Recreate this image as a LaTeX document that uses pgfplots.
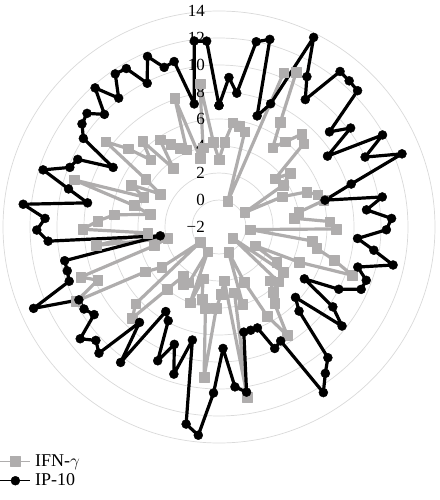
\documentclass[border=0pt]{standalone}
\usepackage{fontspec}
\setmainfont{Liberation Serif}
\usepackage{pgfplots}
\usepgfplotslibrary{polar}
\pgfplotsset{compat=1.18}
\usepackage{pgfplotstable}

\definecolor{ifngray}{RGB}{175,173,173}
\definecolor{gridgray}{RGB}{217,217,217}

% i = category index (95 categories, clockwise from the top), values as read
\pgfplotstableread{
i  ifn  ip
0  3.0  7.0
1  4.3  9.1
2  5.8  8.0
3  5.6  12.0
4  5.3  12.4
5  0.0  6.7
6  10.4 7.9
7  10.8 13.7
8  7.0  10.9
9  5.1  9.4
10 6.0  12.6
11 7.2  12.5
12 6.8  12.4
13 3.5  8.8
14 4.6  10.2
15 3.7  7.6
16 0.2  11.9
17 3.2  10.0
18 5.0  12.6
19 5.7  8.3
20 6.0  6.1
21 4.0  10.3
22 3.6  9.0
23 6.2  10.8
24 6.7  10.4
25 0.3  8.3
26 5.0  9.6
27 5.4  11.2
28 6.9  8.7
29 8.5  9.6
30 4.5  9.5
31 1.0  8.0
32 3.0  5.4
33 3.8  8.3
34 -0.7 9.7
35 4.0  5.7
36 3.5  6.6
37 4.3  10.6
38 5.0  11.4
39 7.5  12.5
40 5.5  7.6
41 2.5  7.9
42 0.0  6.0
43 4.0  6.0
44 3.0  6.0
45 10.8 10.4
46 2.0  9.9
47 3.0  7.0
48 4.0  10.3
49 9.2  13.5
50 4.1  12.8
51 3.5  6.6
52 2.0  9.4
53 4.0  7.3
54 0.0  8.9
55 2.7  5.9
56 3.0  5.4
57 2.5  10.4
58 4.0  7.2
59 7.3  10.9
60 6.4  10.4
61 -0.2 11.2
62 3.2  9.3
63 4.4  9.7
64 9.9  9.7
65 7.8  13.0
66 8.9  9.8
67 3.0  9.7
68 1.9  9.7
69 7.2  2.4
70 3.3  10.7
71 8.1  11.5
72 7.0  10.9
73 5.8  12.6
74 3.2  7.9
75 4.5  9.5
76 9.3  11.7
77 4.0  9.9
78 5.2  9.6
79 3.0  7.0
80 4.5  10.0
81 8.5  10.7
82 6.9  10.9
83 5.1  9.9
84 6.5  11.8
85 3.5  10.1
86 5.8  11.7
87 5.1  11.6
88 4.5  9.9
89 4.2  11.7
90 8.1  10.5
91 3.3  10.7
92 4.0  7.3
93 8.7  11.9
94 4.3  11.8
95 3.0  7.0
}\radardata

\begin{document}
\begin{tikzpicture}
\useasboundingbox (-219pt,-273pt) rectangle (220pt,227pt);
\begin{polaraxis}[
    at={(0pt,0pt)}, anchor=origin,
    width=432pt, height=432pt, scale only axis,
    ymin=0, ymax=16,
    xtick=\empty,
    ytick={2,4,...,16},
    yticklabels={},
    ymajorgrids,
    major grid style={gridgray, line width=0.7pt},
    axis line style={draw=none},
    tick style={draw=none},
    major tick length=0pt,
    clip=false,
    legend style={at={(-0.008,-0.022)}, anchor=north west, draw=none, fill=none,
        font=\fontsize{18}{21}\selectfont, row sep=2pt, inner sep=0pt,
        nodes={inner xsep=4pt}},
    legend cell align=left,
    legend image code/.code={\draw[mark repeat=2,mark phase=2,#1,line width=1.3pt]
        plot coordinates {(0pt,0pt) (15pt,0pt) (30pt,0pt)};},
]
\addplot[ifngray, line width=3.2pt, line join=round, mark=square*, mark size=4.8pt,
    mark options={line width=0.4pt, fill=ifngray}]
    table[x expr=90-360*\thisrow{i}/95, y expr=\thisrow{ifn}+2] {\radardata};
\addlegendentry{IFN-$\gamma$}
\addplot[black, line width=3.2pt, line join=round, mark=*, mark size=4.5pt,
    mark options={line width=0.4pt}]
    table[x expr=90-360*\thisrow{i}/95, y expr=\thisrow{ip}+2] {\radardata};
\addlegendentry{IP-10}

\begin{scope}[every node/.style={anchor=east, inner sep=0pt, xshift=-14pt,
    font=\fontsize{17}{20}\selectfont}]
\node at (axis cs:90,0)  {−2};
\node at (axis cs:90,2)  {0};
\node at (axis cs:90,4)  {2};
\node at (axis cs:90,6)  {4};
\node at (axis cs:90,8)  {6};
\node at (axis cs:90,10) {8};
\node at (axis cs:90,12) {10};
\node at (axis cs:90,14) {12};
\node at (axis cs:90,16) {14};
\end{scope}
\end{polaraxis}
\end{tikzpicture}
\end{document}
